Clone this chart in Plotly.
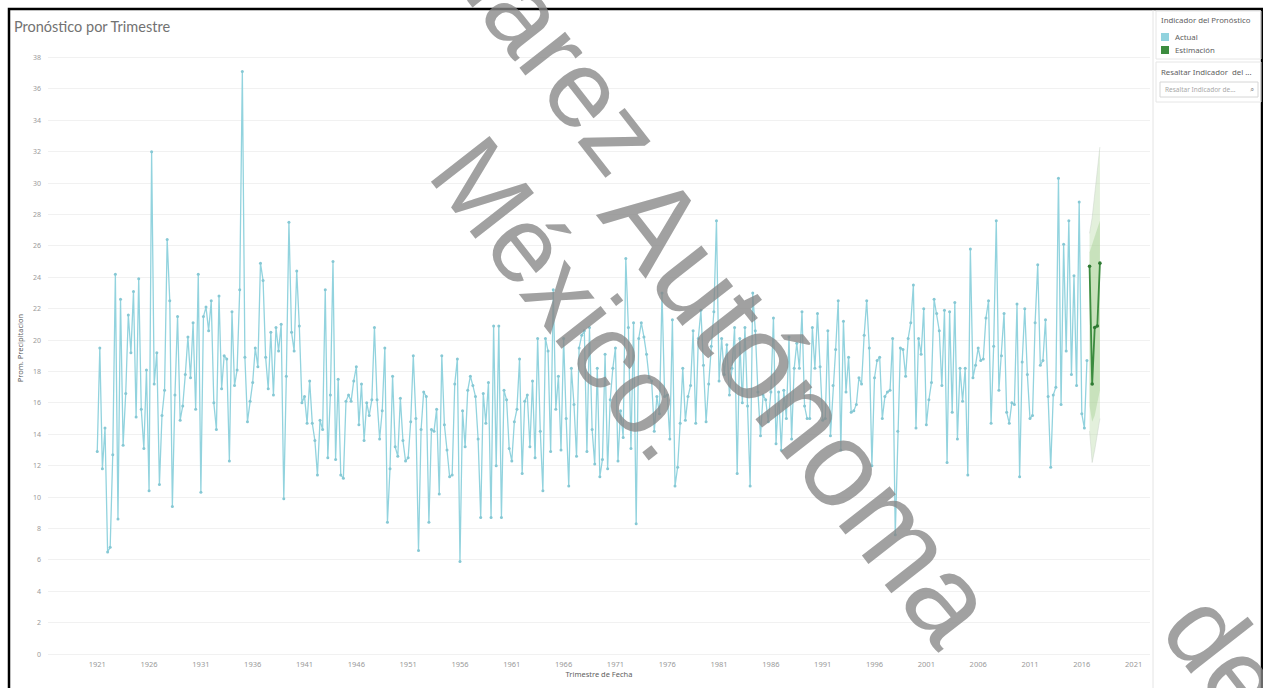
import pandas as pd
import plotly.graph_objects as go

# Quarterly average precipitation, one row per year, starting 1921 Q1
actual_start = "1921Q1"
actual_values = [
    12.9, 19.5, 11.8, 14.4,
    6.5, 6.8, 12.7, 24.2,
    8.6, 22.6, 13.3, 16.6,
    21.6, 19.2, 23.1, 15.1,
    23.9, 15.6, 13.1, 18.1,
    10.4, 32.0, 17.2, 19.2,
    10.8, 15.2, 16.8, 26.4,
    22.5, 9.4, 16.5, 21.5,
    14.9, 15.8, 17.8, 20.2,
    17.6, 21.1, 15.6, 24.2,   # 1930
    10.3, 21.5, 22.1, 20.6,
    22.5, 16.0, 14.3, 22.8,
    16.9, 19.0, 18.8, 12.3,
    21.8, 17.1, 18.1, 23.2,
    37.1, 18.9, 14.8, 16.1,
    17.3, 19.5, 18.3, 24.9,
    23.8, 18.9, 16.9, 20.5,
    16.5, 20.8, 19.3, 21.0,
    9.9, 17.7, 27.5, 20.5,
    19.3, 24.4, 20.9, 16.0,   # 1940
    16.4, 14.7, 17.4, 14.7,
    13.6, 11.4, 14.9, 14.3,
    23.2, 12.5, 16.5, 25.0,
    12.4, 17.5, 11.4, 11.2,
    16.1, 16.5, 16.1, 17.4,
    18.3, 14.6, 17.2, 13.6,
    16.0, 15.2, 16.2, 20.8,
    16.2, 13.7, 15.5, 19.5,
    8.4, 11.8, 17.7, 13.2,
    12.6, 16.3, 13.6, 12.3,   # 1950
    12.5, 14.8, 19.0, 15.0,
    6.6, 14.3, 16.7, 16.4,
    8.4, 14.3, 14.2, 15.6,
    10.2, 19.0, 14.6, 13.0,
    11.3, 11.4, 17.2, 18.8,
    5.9, 15.5, 13.2, 16.8,
    17.7, 17.1, 16.4, 13.7,
    8.7, 16.6, 14.7, 17.3,
    8.7, 20.9, 12.0, 20.9,
    8.7, 16.8, 16.2, 13.1,    # 1960
    12.3, 14.8, 15.6, 18.8,
    11.5, 16.1, 16.5, 13.2,
    17.4, 12.5, 20.1, 14.2,
    10.4, 20.1, 19.3, 12.9,
    23.2, 15.6, 17.7, 13.0,
    20.1, 15.0, 10.7, 18.2,
    15.9, 12.6, 19.5, 20.3,
    20.6, 12.9, 20.8, 14.3,
    12.1, 18.2, 11.3, 12.4,
    19.1, 11.8, 16.2, 18.2,   # 1970
    19.5, 12.3, 15.5, 13.8,
    25.2, 20.8, 13.1, 21.1,
    8.3, 20.1, 21.1, 20.2,
    19.1, 17.6, 17.4, 14.2,
    16.4, 15.3, 23.0, 16.4,
    16.5, 13.7, 21.3, 10.7,
    11.9, 14.7, 18.2, 14.9,
    16.4, 17.1, 20.6, 14.7,
    20.1, 21.9, 18.4, 14.8,
    17.2, 19.6, 21.8, 27.6,   # 1980
    17.4, 20.1, 17.8, 19.7,
    16.5, 18.2, 20.8, 11.5,
    20.1, 16.0, 20.8, 15.8,
    10.7, 23.0, 20.6, 16.7,
    13.9, 16.5, 16.2, 14.8,
    16.7, 21.4, 13.4, 16.7,
    13.0, 16.8, 15.0, 20.2,
    13.7, 18.2, 19.8, 18.2,
    21.8, 15.8, 15.0, 15.0,
    20.8, 18.2, 21.7, 18.3,   # 1990
    14.9, 15.0, 20.6, 13.9,
    17.1, 19.4, 22.5, 13.0,
    21.2, 16.7, 18.9, 15.4,
    15.5, 15.9, 17.6, 17.2,
    20.3, 22.5, 19.5, 12.0,
    17.6, 18.7, 18.9, 15.0,
    16.4, 16.7, 16.8, 20.1,
    7.6, 14.2, 19.5, 19.4,
    17.7, 20.1, 21.1, 23.5,
    14.4, 20.1, 19.1, 22.0,   # 2000
    14.6, 16.2, 17.3, 22.6,
    21.7, 20.6, 17.1, 21.9,
    12.2, 21.8, 15.4, 22.4,
    13.7, 18.2, 16.1, 18.2,
    11.4, 25.8, 17.6, 18.4,
    19.5, 18.7, 18.8, 21.4,
    22.5, 14.7, 19.6, 27.6,
    16.8, 19.0, 21.7, 15.4,
    14.7, 16.0, 15.9, 22.3,
    11.3, 18.6, 22.0, 17.8,   # 2010
    15.0, 15.2, 21.1, 24.8,
    18.4, 18.7, 21.3, 16.4,
    11.9, 16.5, 17.0, 30.3,
    15.9, 26.1, 19.3, 27.6,
    17.8, 24.1, 17.1, 28.8,
    15.3, 14.4, 18.7,
]

# Forecast ("Estimación") with its prediction intervals
forecast_values = [24.7, 17.2, 20.8, 20.9, 24.9]
band_outer_upper = [26.8, 27.8, 29.3, 30.8, 32.3]
band_outer_lower = [14.2, 12.2, 13.0, 14.0, 15.0]
band_inner_upper = [25.6, 26.1, 26.6, 27.1, 27.6]
band_inner_lower = [15.8, 14.8, 15.2, 16.0, 16.8]

year_ticks = list(range(1921, 2022, 5))
y_ticks = list(range(0, 39, 2))

actual_color = "#92d3de"
forecast_color = "#3c8c3f"
label_color = "#9a9a9a"
text_color = "#5e5e5e"
ui_font = "Noto Sans, Open Sans, sans-serif"

quarters = pd.period_range(actual_start, periods=len(actual_values), freq="Q")
actual_dates = quarters.to_timestamp()
forecast_dates = pd.period_range(quarters[-1] + 1, periods=len(forecast_values),
                                 freq="Q").to_timestamp()

W, H = 1263, 688
L, R, T, B = 48, 113, 38, 30
PW, PH = W - L - R, H - T - B


def px(x):
    return (x - L) / PW


def py(y):
    return (H - B - y) / PH


fig = go.Figure()

# prediction bands
fig.add_trace(go.Scatter(x=forecast_dates, y=band_outer_upper, mode="lines",
                         line=dict(width=0.6, color="rgba(195,205,195,0.7)"),
                         hoverinfo="skip", showlegend=False))
fig.add_trace(go.Scatter(x=forecast_dates, y=band_outer_lower, mode="lines",
                         line=dict(width=0.6, color="rgba(195,205,195,0.7)"),
                         fill="tonexty", fillcolor="rgba(185,218,168,0.40)",
                         hoverinfo="skip", showlegend=False))
fig.add_trace(go.Scatter(x=forecast_dates, y=band_inner_upper, mode="lines",
                         line=dict(width=0), hoverinfo="skip", showlegend=False))
fig.add_trace(go.Scatter(x=forecast_dates, y=band_inner_lower, mode="lines",
                         line=dict(width=0), fill="tonexty",
                         fillcolor="rgba(160,205,140,0.40)",
                         hoverinfo="skip", showlegend=False))

fig.add_trace(go.Scatter(
    x=actual_dates, y=actual_values, mode="lines+markers", name="Actual",
    line=dict(color=actual_color, width=1.3),
    marker=dict(size=3, color="#86c8d4"), showlegend=False))
fig.add_trace(go.Scatter(
    x=forecast_dates, y=forecast_values, mode="lines+markers", name="Estimación",
    line=dict(color=forecast_color, width=1.8),
    marker=dict(size=3.6, color="#2f7a33"), showlegend=False))

fig.update_xaxes(
    type="date", range=["1916-04-01", "2022-08-01"],
    tickvals=[pd.Timestamp(f"{y}-01-01") for y in year_ticks],
    ticktext=[str(y) for y in year_ticks],
    showgrid=False, zeroline=False, showline=False, ticks="", automargin=False,
    tickfont=dict(family=ui_font, size=7.5, color=label_color),
    title=dict(text="Trimestre de Fecha", standoff=4,
               font=dict(family=ui_font, size=7.5, color=text_color)),
)
fig.update_yaxes(
    range=[-0.25, 39.24], tickvals=y_ticks,
    showgrid=True, gridcolor="#f1f1f1", gridwidth=1,
    zeroline=False, showline=False, ticks="", automargin=False,
    ticklabelstandoff=6,
    tickfont=dict(family=ui_font, size=7, color=label_color),
    title=dict(text="Prom. Precipitacion", standoff=8,
               font=dict(family=ui_font, size=7.5, color=text_color)),
)

shapes = [
    # outer frame
    dict(type="rect", xref="paper", yref="paper", x0=px(9), x1=px(1262),
         y0=py(9), y1=py(700), line=dict(color="black", width=2.5)),
    # side panel separator
    dict(type="line", xref="paper", yref="paper", x0=px(1153), x1=px(1153),
         y0=py(10), y1=py(688), line=dict(color="#e4e4e4", width=1)),
    # legend boxes
    dict(type="rect", xref="paper", yref="paper", x0=px(1156), x1=px(1261),
         y0=py(11), y1=py(59), line=dict(color="#e6e6e6", width=1)),
    dict(type="rect", xref="paper", yref="paper", x0=px(1156), x1=px(1261),
         y0=py(62), y1=py(102), line=dict(color="#e6e6e6", width=1)),
    dict(type="rect", xref="paper", yref="paper", x0=px(1160), x1=px(1258),
         y0=py(82), y1=py(97), line=dict(color="#d6d6d6", width=1)),
    dict(type="rect", xref="paper", yref="paper", x0=px(1161), x1=px(1169),
         y0=py(33), y1=py(41), fillcolor=actual_color, line=dict(width=0)),
    dict(type="rect", xref="paper", yref="paper", x0=px(1161), x1=px(1169),
         y0=py(46), y1=py(54), fillcolor=forecast_color, line=dict(width=0)),
]

small = dict(family=ui_font, size=7.8, color=text_color)
annotations = [
    dict(text="Pronóstico por Trimestre", x=px(12), y=py(27), xref="paper", yref="paper",
         xanchor="left", yanchor="middle", showarrow=False,
         font=dict(family="Lato, Open Sans, sans-serif", size=14.5, color="#727272")),
    dict(text="Indicador del Pronóstico", x=px(1159), y=py(20), xref="paper", yref="paper",
         xanchor="left", yanchor="middle", showarrow=False, font=small),
    dict(text="Actual", x=px(1173), y=py(37), xref="paper", yref="paper",
         xanchor="left", yanchor="middle", showarrow=False, font=small),
    dict(text="Estimación", x=px(1173), y=py(50), xref="paper", yref="paper",
         xanchor="left", yanchor="middle", showarrow=False, font=small),
    dict(text="Resaltar Indicador  del ...", x=px(1159), y=py(72), xref="paper", yref="paper",
         xanchor="left", yanchor="middle", showarrow=False, font=small),
    dict(text="Resaltar Indicador de...", x=px(1163), y=py(89.5), xref="paper", yref="paper",
         xanchor="left", yanchor="middle", showarrow=False,
         font=dict(family=ui_font, size=6.5, color="#a8a8a8")),
    dict(text="⌕", x=px(1256), y=py(89.5), xref="paper", yref="paper",
         xanchor="right", yanchor="middle", showarrow=False,
         font=dict(family="DejaVu Sans", size=8, color="#999999")),
]

# diagonal watermark, one word per annotation
watermark_words = ["Juárez", "Autónoma", "de", "México."]
watermark_centers = [(538, 28), (800, 408), (1226, 655), (570, 298)]
watermark_sizes = [110, 122, 110, 108]
for word, (cx, cy), size in zip(watermark_words, watermark_centers, watermark_sizes):
    annotations.append(dict(
        text=word, x=px(cx), y=py(cy), xref="paper", yref="paper",
        xanchor="center", yanchor="middle", showarrow=False, textangle=52,
        font=dict(family="Liberation Sans, Arial, sans-serif", size=size,
                  color="rgba(135,135,135,0.78)")))

fig.update_layout(
    width=W, height=H,
    margin=dict(l=L, r=R, t=T, b=B),
    paper_bgcolor="white", plot_bgcolor="white",
    shapes=shapes, annotations=annotations,
    showlegend=False,
)

fig.write_html("out.html", config={"displayModeBar": False})
